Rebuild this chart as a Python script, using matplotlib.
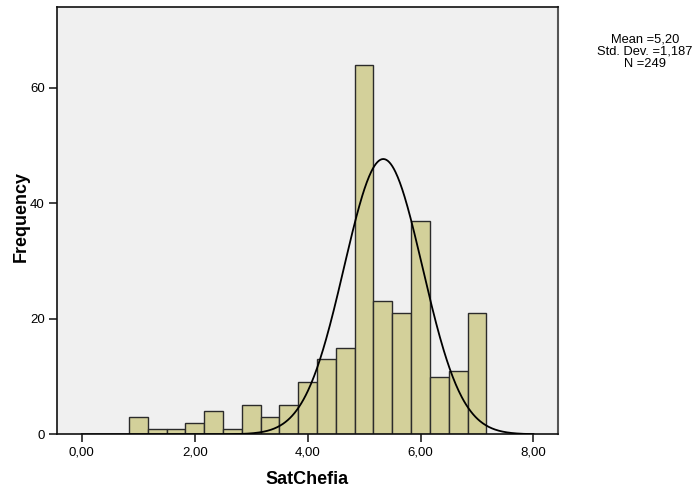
import matplotlib
matplotlib.use('Agg')
import matplotlib.pyplot as plt
import numpy as np

# SatChefia histogram: 19 bins of width 1/3 starting at 0.8333
bin_start = 5 / 6
bin_width = 1 / 3
counts = [3, 1, 1, 2, 4, 1, 5, 3, 5, 9, 13, 15, 64, 23, 21, 37, 10, 11, 21]

# summary shown at the side
mean_txt = '5,20'
sd_txt = '1,187'
n_total = 249

# fitted curve as drawn (centre / spread)
curve_mu = 5.34
curve_sd = 0.695

xticks = [0, 2, 4, 6, 8]
xtick_labels = ['0,00', '2,00', '4,00', '6,00', '8,00']
yticks = [0, 20, 40, 60]

plt.rcParams['font.family'] = ['Liberation Sans', 'DejaVu Sans']

fig = plt.figure(figsize=(6.97, 4.90), dpi=100)
ax = fig.add_axes([57.3 / 697, 1 - 434.3 / 490, (557.7 - 57.3) / 697, (434.3 - 7.3) / 490])
ax.set_facecolor('#f0f0f0')

lefts = bin_start + bin_width * np.arange(len(counts))
ax.bar(lefts, counts, width=bin_width, align='edge', color='#d3d09a',
       edgecolor='#2b2b2b', linewidth=1.0, zorder=2)

xs = np.linspace(0, 8, 600)
ys = n_total * bin_width / (curve_sd * np.sqrt(2 * np.pi)) * np.exp(-0.5 * ((xs - curve_mu) / curve_sd) ** 2)
ax.plot(xs, ys, color='black', linewidth=1.3, zorder=3)

ax.set_xlim(-0.435, 8.43)
ax.set_ylim(0, 73.9)
ax.set_xticks(xticks)
ax.set_xticklabels(xtick_labels)
ax.set_yticks(yticks)
ax.tick_params(axis='both', labelsize=9.5, length=6, width=1.2, color='#222222', pad=3)

for side in ['left', 'bottom', 'top']:
    ax.spines[side].set_color('#111111')
    ax.spines[side].set_linewidth(1.2)
ax.spines['right'].set_color('#555555')
ax.spines['right'].set_linewidth(1.5)

ax.set_xlabel('SatChefia', fontsize=13, fontweight='bold', labelpad=9)
ax.set_ylabel('Frequency', fontsize=13, fontweight='bold')
ax.yaxis.set_label_coords(-0.055, 0.509)

fig.text(645 / 697, 1 - 52 / 490,
         'Mean =%s\nStd. Dev. =%s\nN =%d' % (mean_txt, sd_txt, n_total),
         ha='center', va='center', fontsize=9.3, linespacing=1.05)

fig.savefig('out.png', dpi=100)
